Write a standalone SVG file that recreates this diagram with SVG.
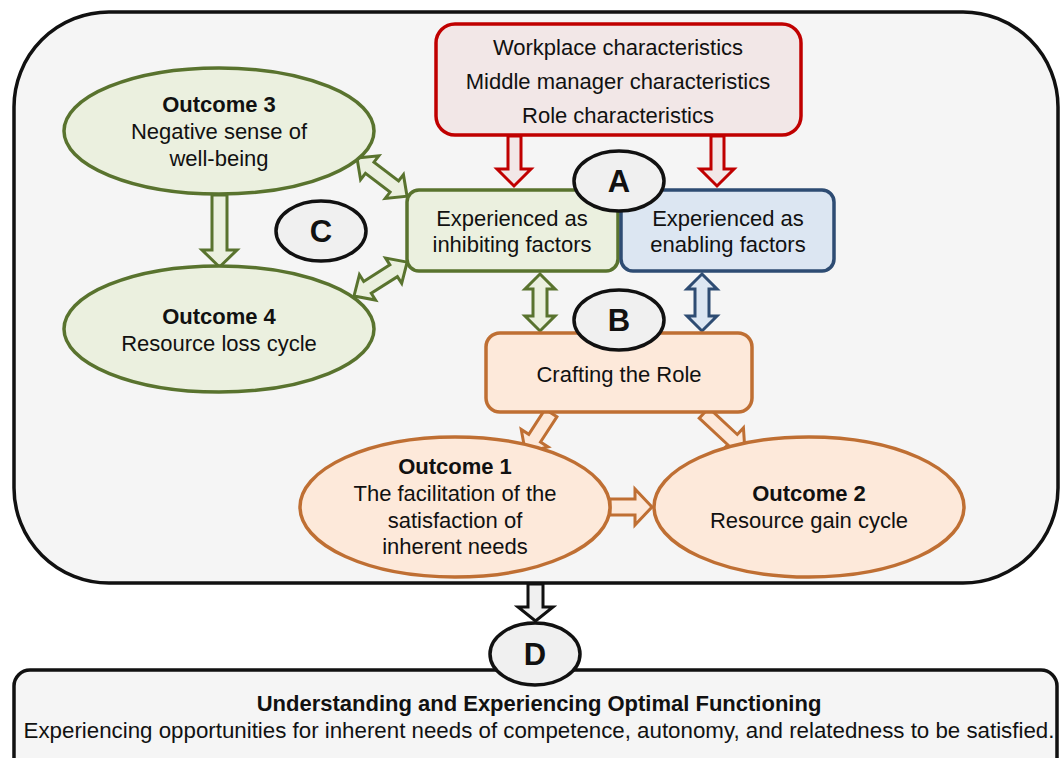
<svg xmlns="http://www.w3.org/2000/svg" width="1060" height="758" viewBox="0 0 1060 758">
  <style>
    text { font-family: "Liberation Sans", Arial, sans-serif; font-size: 22px; fill: #111; text-anchor: middle; }
    .b { font-weight: bold; }
    .tag { font-weight: bold; font-size: 31px; }
    .frame { fill: #F5F5F5; stroke: #111; stroke-width: 3.5; }
    .label { fill: #F0F0F0; stroke: #111; stroke-width: 3.5; }
    .red { fill: #F2E7E7; stroke: #C00000; stroke-width: 3.5; }
    .green { fill: #EBF0DF; stroke: #59732E; stroke-width: 3.5; }
    .blue { fill: #DCE6F2; stroke: #2E4C73; stroke-width: 3.5; }
    .orange { fill: #FDE9DA; stroke: #BF6F33; stroke-width: 3.5; }
    .ar-red { fill: #F2E7E7; stroke: #C00000; stroke-width: 3; stroke-linejoin: miter; }
    .ar-green { fill: #EBF0DF; stroke: #59732E; stroke-width: 3; }
    .ar-blue { fill: #DCE6F2; stroke: #2E4C73; stroke-width: 3; }
    .ar-orange { fill: #FDE9DA; stroke: #BF6F33; stroke-width: 3; }
    .ar-black { fill: #F0F0F0; stroke: #111; stroke-width: 3; }
  </style>

  <!-- outer frame and result box -->
  <rect id="frame" class="frame" x="14" y="12" width="1044" height="571" rx="95" ry="95"/>

  <!-- connectors: hollow block arrows -->
  <g id="connectors">
    <!-- red, down into the factor boxes -->
    <polygon class="ar-red" points="508,136 521,136 521,169 531,169 514,186 497,169 508,169"/>
    <polygon class="ar-red" points="711,136 724,136 724,169 734,169 717,186 700,169 711,169"/>
    <!-- outcome 3 to outcome 4 -->
    <polygon class="ar-green" points="212,195 227,195 227,250 237,250 219.5,267 202,250 212,250"/>
    <!-- two-way links to the inhibiting box -->
    <polygon class="ar-green" transform="translate(357,158) rotate(37.4)" points="0,0 16,-15 16,-7 47,-7 47,-15 63,0 47,15 47,7 16,7 16,15"/>
    <polygon class="ar-green" transform="translate(354,296) rotate(-32.5)" points="0,0 16,-15 16,-7 47,-7 47,-15 63,0 47,15 47,7 16,7 16,15"/>
    <!-- factor boxes to crafting -->
    <polygon class="ar-green" points="540,274 555,289 547,289 547,316 555,316 540,331 525,316 533,316 533,289 525,289"/>
    <polygon class="ar-blue" points="702,274 717,289 709,289 709,316 717,316 702,331 687,316 695,316 695,289 687,289"/>
    <!-- crafting to outcomes -->
    <polygon class="ar-orange" transform="translate(551,413) rotate(123)" points="0,-7 30,-7 30,-16 47,0 30,16 30,7 0,7"/>
    <polygon class="ar-orange" transform="translate(704,413) rotate(43)" points="0,-7 39,-7 39,-16 56,0 39,16 39,7 0,7"/>
    <polygon class="ar-orange" points="610,499 635,499 635,489 652,507 635,525 635,515 610,515"/>
    <!-- frame down to D -->
    <polygon class="ar-black" points="528,584 543,584 543,607 553,607 535.5,621 518,607 528,607"/>
  </g>

  <g id="conditions">
    <rect class="red" x="436" y="24" width="365" height="111" rx="19"/>
    <text x="618" y="55">Workplace characteristics</text>
    <text x="618" y="89">Middle manager characteristics</text>
    <text x="618" y="123">Role characteristics</text>
  </g>

  <g id="inhibiting">
    <rect class="green" x="407" y="190" width="211" height="81" rx="12"/>
    <text x="512" y="226">Experienced as</text>
    <text x="512" y="252">inhibiting factors</text>
  </g>

  <g id="enabling">
    <rect class="blue" x="621" y="190" width="213" height="81" rx="12"/>
    <text x="728" y="226">Experienced as</text>
    <text x="728" y="252">enabling factors</text>
  </g>

  <g id="crafting">
    <rect class="orange" x="486" y="333" width="266" height="79" rx="14"/>
    <text x="619" y="382">Crafting the Role</text>
  </g>

  <g id="outcome3">
    <ellipse class="green" cx="219" cy="131" rx="155" ry="63"/>
    <text class="b" x="219" y="112">Outcome 3</text>
    <text x="219" y="139">Negative sense of</text>
    <text x="219" y="166">well-being</text>
  </g>

  <g id="outcome4">
    <ellipse class="green" cx="219" cy="329" rx="155" ry="63"/>
    <text class="b" x="219" y="324">Outcome 4</text>
    <text x="219" y="351">Resource loss cycle</text>
  </g>

  <g id="outcome1">
    <ellipse class="orange" cx="455" cy="507" rx="155" ry="70"/>
    <text class="b" x="455" y="474">Outcome 1</text>
    <text x="455" y="501">The facilitation of the</text>
    <text x="455" y="528">satisfaction of</text>
    <text x="455" y="554">inherent needs</text>
  </g>

  <g id="outcome2">
    <ellipse class="orange" cx="809" cy="507" rx="155" ry="70"/>
    <text class="b" x="809" y="501">Outcome 2</text>
    <text x="809" y="528">Resource gain cycle</text>
  </g>

  <g id="result">
    <rect class="frame" x="14" y="670" width="1043" height="110" rx="16"/>
    <text class="b" x="539" y="711">Understanding and Experiencing Optimal Functioning</text>
    <text x="539" y="738" style="font-size:22.3px">Experiencing opportunities for inherent needs of competence, autonomy, and relatedness to be satisfied.</text>
  </g>

  <!-- letter tags -->
  <g id="tagA">
    <ellipse class="label" cx="619" cy="181" rx="45" ry="30"/>
    <text class="tag" x="619" y="192">A</text>
  </g>
  <g id="tagB">
    <ellipse class="label" cx="619" cy="320" rx="45" ry="30"/>
    <text class="tag" x="619" y="331">B</text>
  </g>
  <g id="tagC">
    <ellipse class="label" cx="321" cy="231" rx="45" ry="30"/>
    <text class="tag" x="321" y="242">C</text>
  </g>
  <g id="tagD">
    <ellipse class="label" cx="535" cy="654" rx="45" ry="31"/>
    <text class="tag" x="535" y="665">D</text>
  </g>
</svg>
